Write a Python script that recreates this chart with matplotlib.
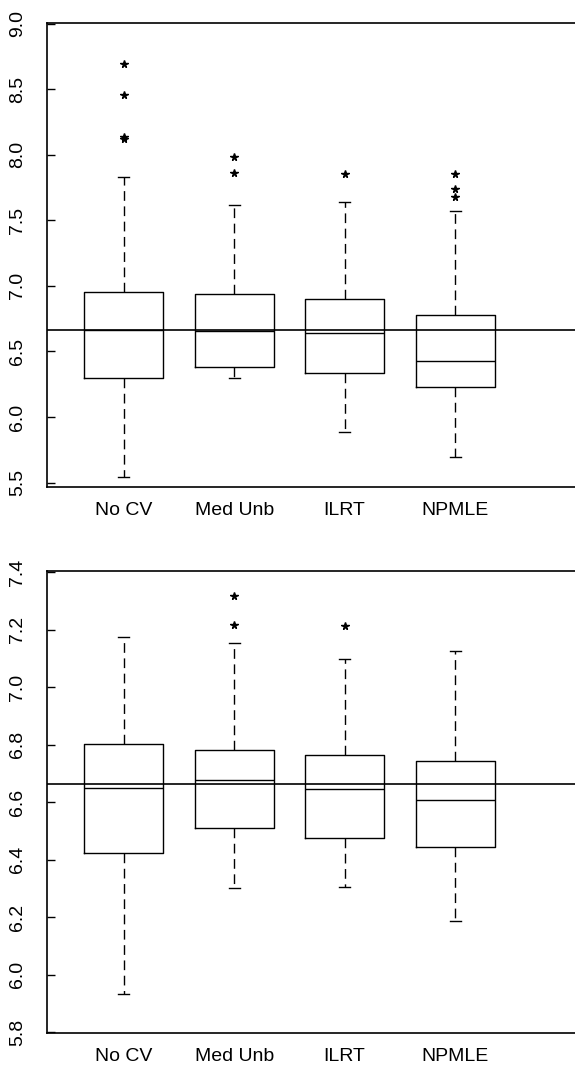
import matplotlib
matplotlib.use("Agg")
import matplotlib.pyplot as plt

plt.rcParams['font.family'] = ['Liberation Sans', 'DejaVu Sans']

categories = ["No CV", "Med Unb", "ILRT", "NPMLE"]
true_value = 6.665

# Top panel box statistics
top_whislo = [5.542, 6.294, 5.887, 5.694]
top_q1     = [6.294, 6.378, 6.337, 6.230]
top_med    = [6.665, 6.655, 6.637, 6.426]
top_q3     = [6.950, 6.934, 6.899, 6.779]
top_whishi = [7.829, 7.620, 7.640, 7.569]
top_fliers = [[8.692, 8.453, 8.131, 8.116], [7.986, 7.859], [7.851], [7.849, 7.742, 7.678]]
top_ticks  = [5.5, 6.0, 6.5, 7.0, 7.5, 8.0, 8.5, 9.0]

# Bottom panel box statistics
bot_whislo = [5.935, 6.303, 6.305, 6.186]
bot_q1     = [6.424, 6.510, 6.476, 6.444]
bot_med    = [6.651, 6.678, 6.646, 6.608]
bot_q3     = [6.802, 6.781, 6.763, 6.743]
bot_whishi = [7.176, 7.155, 7.099, 7.126]
bot_fliers = [[], [7.317, 7.218], [7.214], []]
bot_ticks  = [5.8, 6.0, 6.2, 6.4, 6.6, 6.8, 7.0, 7.2, 7.4]

W, H = 575, 1066
fig = plt.figure(figsize=(W / 100, H / 100), dpi=100)

def px_rect(left, top, right, bottom):
    return [left / W, 1 - bottom / H, (right - left) / W, (bottom - top) / H]

def panel(rect, whislo, q1, med, q3, whishi, fliers, ticks, ylim):
    ax = fig.add_axes(rect)
    stats = []
    for i in range(len(categories)):
        stats.append(dict(med=med[i], q1=q1[i], q3=q3[i], whislo=whislo[i],
                          whishi=whishi[i], fliers=fliers[i], label=categories[i]))
    pos = [1, 2, 3, 4]
    ax.bxp(stats, positions=pos, widths=0.715, capwidths=0.1,
           boxprops=dict(color='black', linewidth=1.0),
           medianprops=dict(color='black', linewidth=1.0),
           whiskerprops=dict(color='black', linewidth=1.0, linestyle=(0, (7, 4))),
           capprops=dict(color='black', linewidth=1.0),
           flierprops=dict(marker='*', markersize=5.5, markerfacecolor='black',
                           markeredgecolor='black', linestyle='none'))
    ax.axhline(true_value, color='black', linewidth=1.2)
    ax.set_xlim(0.306, 0.306 + rect[2] * W / 110.5)
    ax.set_ylim(*ylim)
    ax.set_yticks(ticks)
    ax.set_yticklabels([f"{t:.1f}" for t in ticks], rotation=90, va='center')
    ax.tick_params(axis='y', direction='in', length=6, width=1.0, pad=15, labelsize=14)
    ax.tick_params(axis='x', length=0, pad=11, labelsize=14)
    ax.set_xticks(pos)
    ax.set_xticklabels(categories)
    for s in ax.spines.values():
        s.set_linewidth(1.2)
    ax.spines['right'].set_visible(False)
    return ax

panel(px_rect(47, 23, 590, 487), top_whislo, top_q1, top_med, top_q3, top_whishi,
      top_fliers, top_ticks, (5.466, 9.004))
panel(px_rect(47, 571, 590, 1033), bot_whislo, bot_q1, bot_med, bot_q3, bot_whishi,
      bot_fliers, bot_ticks, (5.798, 7.404))

fig.savefig("out.png", dpi=100)
